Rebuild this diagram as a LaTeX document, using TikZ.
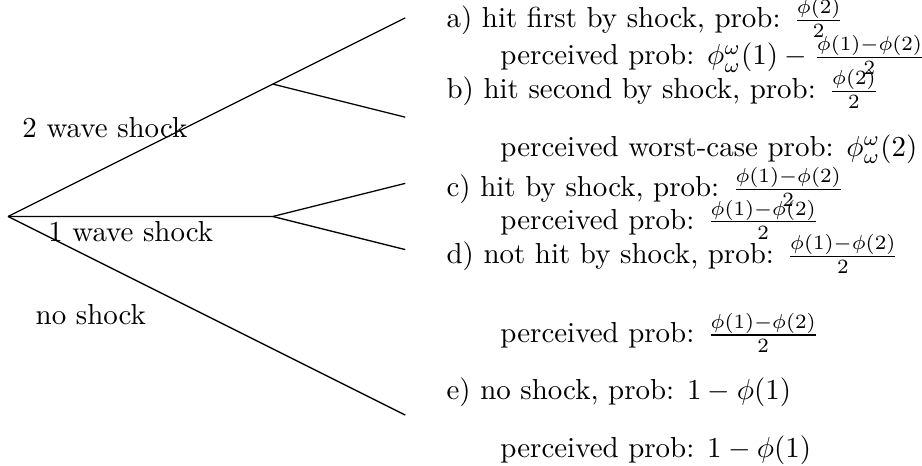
\documentclass[tikz,border=0pt]{standalone}
\begin{document}
\begin{tikzpicture}[
  x=0.8044cm, y=0.8044cm,
  txt/.style={anchor=base west, inner sep=0pt, font=\normalsize},
  branch/.style={draw=black, line width=0.45pt}
]
\useasboundingbox (-0.121,-3.769) rectangle (13.806,3.270);
\coordinate (r) at (0,0);
\coordinate (m2) at (4,2);
\coordinate (m1) at (4,0);
\coordinate (ea) at (6,3);
\coordinate (eb) at (6,1.5);
\coordinate (ec) at (6,0.5);
\coordinate (ed) at (6,-0.5);
\coordinate (ee) at (6,-3);
\draw[branch] (r) -- (m2) -- (ea);
\draw[branch] (m2) -- (eb);
\draw[branch] (r) -- (m1) -- (ec);
\draw[branch] (m1) -- (ed);
\draw[branch] (r) -- (ee);

\node[txt] (l2) at (0.21,1.20) {2 wave shock};
\node[txt] (l1) at (0.60,-0.385) {1 wave shock};
\node[txt] (l0) at (0.41,-1.63) {no shock};

\node[txt] (ta) at (6.616,2.85) {a) hit first by shock, prob: $\frac{\phi(2)}{2}$};
\node[txt] (pa) at (7.43,2.29) {perceived prob: $\phi^\omega_\omega(1) - \frac{\phi(1)-\phi(2)}{2}$};
\node[txt] (tb) at (6.616,1.78) {b) hit second by shock, prob: $\frac{\phi(2)}{2}$};
\node[txt] (pb) at (7.43,0.91) {perceived worst-case prob: $\phi^\omega_\omega(2)$};
\node[txt] (tc) at (6.616,0.30) {c) hit by shock, prob: $\frac{\phi(1)-\phi(2)}{2}$};
\node[txt] (pc) at (7.43,-0.19) {perceived prob: $\frac{\phi(1)-\phi(2)}{2}$};
\node[txt] (td) at (6.616,-0.71) {d) not hit by shock, prob: $\frac{\phi(1)-\phi(2)}{2}$};
\node[txt] (pd) at (7.43,-1.90) {perceived prob: $\frac{\phi(1)-\phi(2)}{2}$};
\node[txt] (te) at (6.616,-2.77) {e) no shock, prob: $1-\phi(1)$};
\node[txt] (pe) at (7.43,-3.64) {perceived prob: $1-\phi(1)$};
\end{tikzpicture}
\end{document}
